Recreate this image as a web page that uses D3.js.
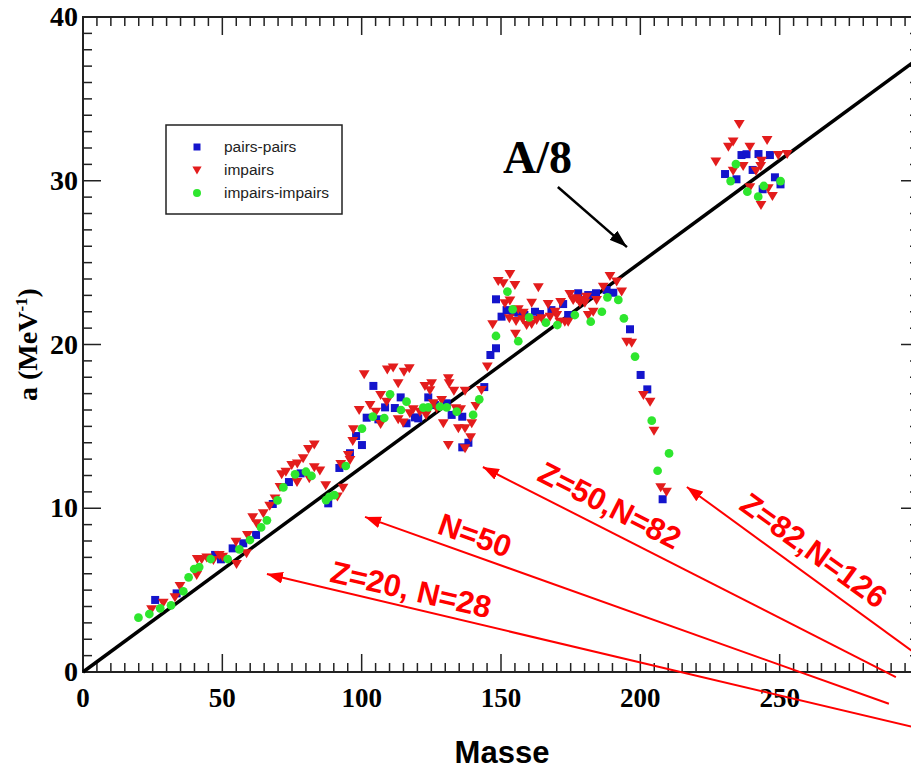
<!DOCTYPE html>
<html>
<head>
<meta charset="utf-8">
<script src="https://cdn.jsdelivr.net/npm/d3@7"></script>
<style>
  html, body { margin: 0; padding: 0; background: #fff; }
  svg { display: block; }
</style>
</head>
<body>
<svg id="chart" width="911" height="771"></svg>
<script>
// Level density parameter a (MeV^-1) versus mass number A
const pairsPairs = [
  [25.9,4.40],[33.6,4.80],[47.4,7.15],[49.5,6.88],[53.7,7.55],[57.5,7.86],[62.1,8.37],
  [68.1,10.26],[73.9,11.6],[78.1,12.13],[88.0,10.3],[92.0,12.46],[95.8,13.36],[98.0,14.41],
  [100.1,13.86],[101.8,15.53],[104.2,17.47],[106.0,15.43],[108.4,16.16],[111.9,16.12],
  [114.0,16.77],[116.1,15.19],[119.1,15.55],[120.3,15.49],[123.9,16.77],[126.3,16.3],
  [130.5,16.41],[132.3,15.7],[136.1,15.59],[136.1,13.72],[138.3,14.0],[144.0,17.4],
  [146.2,19.36],[148.2,19.77],[150.2,21.7],[148.2,22.76],[152.0,22.1],[154.2,22.0],
  [156.2,21.94],[158.4,21.8],[162.2,22.0],[164.0,21.86],[168.1,22.1],[172.3,22.47],
  [174.1,21.8],[177.7,23.13],[181.3,23.02],[184.1,23.13],[187.9,23.33],[190.3,23.16],
  [196.3,20.93],[200.1,18.14],[202.5,17.26],[208.0,10.55],
  [236.3,31.57],[238.1,31.62],[242.4,31.63],[246.5,31.57],[240.3,30.66],[230.4,30.41],
  [234.5,30.09],[248.3,30.21],[250.3,29.78],[243.9,29.48]
];

const impairs = [
  [24.6,3.83],[28.8,4.23],[33.0,4.56],[34.8,5.25],[40.8,5.92],[41.0,6.90],[42.6,6.88],
  [44.4,7.0],[46.8,6.84],[48.9,7.15],[50.1,7.04],[55.1,6.60],[54.9,7.96],[58.7,7.25],
  [59.0,8.37],[62.3,9.08],[60.9,9.45],[64.7,9.69],[67.0,10.15],[68.9,10.6],[70.7,11.3],
  [76.8,11.6],[71.3,12.07],[72.8,12.23],[74.9,12.64],[76.9,12.74],[79.0,13.05],
  [80.9,13.62],[83.0,13.9],[83.0,12.5],[85.0,12.3],[81.2,11.83],[87.1,11.4],[91.3,10.72],
  [93.3,11.25],[92.5,12.7],[95.2,13.25],[95.8,12.95],[96.8,14.1],[97.0,14.82],[99.1,16.0],
  [100.9,18.18],[103.0,16.3],[105.1,15.9],[106.8,15.15],[106.8,16.92],[109.2,18.48],
  [111.3,18.6],[109.0,16.5],[113.1,17.63],[113.1,15.43],[114.9,15.23],[115.2,18.34],
  [117.1,18.55],[117.3,15.8],[118.5,16.04],[120.9,15.9],[122.7,17.47],[125.1,17.63],
  [124.5,17.2],[123.1,15.7],[125.7,16.41],[126.9,16.1],[128.7,16.61],[131.1,17.94],
  [131.4,17.63],[129.3,15.19],[133.1,17.18],[133.8,16.1],[135.5,16.04],[134.7,14.88],
  [137.1,14.88],[137.1,17.18],[139.1,14.33],[131.1,13.86],[137.1,13.66],[139.5,15.19],
  [141.0,16.24],[143.0,17.22],[145.1,18.65],[147.0,21.23],[149.0,23.88],[150.8,23.74],
  [153.2,24.31],[155.0,23.63],[151.4,22.52],[153.2,22.68],[153.0,21.6],[155.4,21.43],
  [157.8,21.54],[155.2,20.66],[156.2,22.15],[158.0,21.94],[159.2,21.19],[161.0,21.25],
  [161.0,22.55],[163.4,23.49],[162.8,21.5],[164.6,21.6],[166.9,22.47],[167.6,21.7],
  [169.4,22.0],[170.0,21.8],[171.4,22.6],[171.1,21.39],[172.9,21.39],[174.7,23.08],
  [175.9,22.72],[174.1,21.39],[177.1,22.82],[178.9,22.72],[180.7,22.92],[178.3,22.55],
  [180.1,22.55],[181.3,21.8],[183.1,22.0],[184.3,22.72],[186.7,23.53],[189.1,24.18],
  [191.5,23.84],[193.3,23.23],[195.1,20.17],[196.9,20.11],[201.1,16.92],[203.5,16.51],
  [204.9,14.74],[207.3,11.28],[209.4,11.01],
  [235.5,33.47],[231.6,32.08],[233.3,32.39],[239.3,32.08],[245.5,32.49],[227.1,31.17],
  [249.5,31.57],[252.7,31.63],[236.9,30.9],[243.5,31.22],[243.2,30.9],[233.3,30.61],
  [241.5,30.61],[239.3,29.6],[245.9,29.54],[247.4,29.07],[243.3,28.52]
];

const impairsImpairs = [
  [19.9,3.32],[23.8,3.54],[27.7,3.89],[31.6,4.07],[36.0,4.93],[37.9,5.78],[39.9,6.29],
  [41.7,6.41],[45.8,6.90],[51.9,6.90],[56.1,7.49],[59.9,8.06],[63.9,8.83],[66.0,9.26],
  [69.8,10.48],[71.9,11.27],[76.1,12.07],[80.0,12.23],[82.0,11.97],[87.2,10.5],[88.4,10.7],
  [90.2,10.8],[94.3,12.58],[100.1,14.86],[104.0,15.59],[108.1,15.51],[110.2,16.96],
  [114.1,16.0],[116.1,16.51],[122.1,16.14],[123.9,16.16],[128.1,16.2],[130.5,16.16],
  [134.1,15.9],[140.0,15.7],[142.2,16.65],[148.2,20.52],[156.2,20.2],[152.3,23.23],
  [154.2,22.15],[160.1,21.66],[166.1,21.33],[170.2,21.19],[176.5,21.8],[182.2,21.39],
  [186.2,22.0],[188.2,22.88],[192.1,22.72],[194.1,21.6],[198.1,19.26],[204.1,15.35],
  [206.2,12.29],[210.3,13.35],
  [234.3,31.02],[232.4,29.98],[238.4,29.33],[250.3,29.98],[244.3,29.68],[242.3,29.03]
];

const legendLabels = ["pairs-pairs", "impairs", "impairs-impairs"];
const xTickValues = [0, 50, 100, 150, 200, 250];
const yTickValues = [0, 10, 20, 30, 40];
const xDomain = [0, 300];
const yDomain = [0, 40];

// Shell-closure annotations: label, arrow tip [A, a], arrow tail [A, a], label centre [A, a], angle
const shellLabels = ["Z=20, N=28", "N=50", "Z=50,N=82", "Z=82,N=126"];
const shellTips = [[66.0, 5.98], [101.2, 9.47], [143.5, 12.52], [216.7, 11.30]];
const shellTails = [[303.9, -3.60], [289.2, -1.94], [291.7, -0.31], [303.9, 0.49]];
const shellTextPos = [[117.7, 5.07], [140.7, 8.37], [189.1, 10.2], [262.3, 7.45]];
const shellAngles = [13, 19.5, 27, 36];

const svg = d3.select("#chart");
const x = d3.scaleLinear().domain(xDomain).range([83, 919]);
const y = d3.scaleLinear().domain(yDomain).range([672, 17]);

const serif = "'Liberation Serif', 'Times New Roman', serif";
const sans = "'Liberation Sans', Arial, Helvetica, sans-serif";
const axisColor = "#222";

svg.append("rect").attr("width", 911).attr("height", 771).attr("fill", "#fff");

// Frame
svg.append("rect")
  .attr("x", x(0)).attr("y", y(40))
  .attr("width", x(300) - x(0)).attr("height", y(0) - y(40))
  .attr("fill", "none").attr("stroke", axisColor).attr("stroke-width", 2);

// Inward ticks on all four sides
const xMinor = d3.range(0, 301, 5);
const yMinor = d3.range(0, 41, 1);
const tickG = svg.append("g").attr("stroke", axisColor).attr("stroke-width", 1.5);
xMinor.forEach(v => {
  const len = v % 50 === 0 ? 18 : 9;
  tickG.append("line").attr("x1", x(v)).attr("x2", x(v)).attr("y1", y(0)).attr("y2", y(0) - len);
  tickG.append("line").attr("x1", x(v)).attr("x2", x(v)).attr("y1", y(40)).attr("y2", y(40) + len);
});
yMinor.forEach(v => {
  const len = v % 10 === 0 ? 18 : 9;
  tickG.append("line").attr("y1", y(v)).attr("y2", y(v)).attr("x1", x(0)).attr("x2", x(0) + len);
  tickG.append("line").attr("y1", y(v)).attr("y2", y(v)).attr("x1", x(300)).attr("x2", x(300) - len);
});

// Tick labels
svg.append("g").selectAll("text").data(xTickValues).join("text")
  .attr("x", d => x(d)).attr("y", 707)
  .attr("text-anchor", "middle")
  .attr("font-family", serif).attr("font-weight", "bold").attr("font-size", 27)
  .attr("fill", "#000")
  .text(d => d);
svg.append("g").selectAll("text").data(yTickValues).join("text")
  .attr("x", 78).attr("y", d => y(d) + 9)
  .attr("text-anchor", "end")
  .attr("font-family", serif).attr("font-weight", "bold").attr("font-size", 28)
  .attr("fill", "#000")
  .text(d => d);

// Axis titles
svg.append("text")
  .attr("x", 502).attr("y", 763)
  .attr("text-anchor", "middle")
  .attr("font-family", sans).attr("font-weight", "bold").attr("font-size", 31)
  .text("Masse");

const yTitle = svg.append("text")
  .attr("transform", `translate(37, ${y(20)}) rotate(-90)`)
  .attr("text-anchor", "middle")
  .attr("font-family", serif).attr("font-weight", "bold").attr("font-size", 28);
yTitle.append("tspan").text("a (MeV");
yTitle.append("tspan").attr("dy", -10).attr("font-size", 17).text("-1");
yTitle.append("tspan").attr("dy", 10).text(")");

// A/8 reference line
svg.append("line")
  .attr("x1", x(0)).attr("y1", y(0))
  .attr("x2", x(300)).attr("y2", y(300 / 8))
  .attr("stroke", "#000").attr("stroke-width", 3.5);

// Marker shapes
const colors = { pp: "#1414cc", imp: "#e31c1c", ii: "#2ee62e" };
const squarePath = d3.symbol(d3.symbolSquare, 64)();
const circlePath = d3.symbol(d3.symbolCircle, 60)();
const trianglePath = "M-5.4,-4L5.4,-4L0,5Z";

// Data points
const pts = svg.append("g");
pts.append("g").selectAll("path").data(pairsPairs).join("path")
  .attr("d", squarePath).attr("fill", colors.pp)
  .attr("transform", d => `translate(${x(d[0])},${y(d[1])})`);
pts.append("g").selectAll("path").data(impairs).join("path")
  .attr("d", trianglePath).attr("fill", colors.imp)
  .attr("transform", d => `translate(${x(d[0])},${y(d[1])})`);
pts.append("g").selectAll("path").data(impairsImpairs).join("path")
  .attr("d", circlePath).attr("fill", colors.ii)
  .attr("transform", d => `translate(${x(d[0])},${y(d[1])})`);

// Legend
const legend = svg.append("g");
legend.append("rect")
  .attr("x", 166).attr("y", 125).attr("width", 176).attr("height", 89)
  .attr("fill", "#fff").attr("stroke", axisColor).attr("stroke-width", 1.5);
const legendShapes = [
  d3.symbol(d3.symbolSquare, 49)(),
  "M-4.6,-3.4L4.6,-3.4L0,4.4Z",
  d3.symbol(d3.symbolCircle, 50)()
];
const legendColors = [colors.pp, colors.imp, colors.ii];
const legendRows = [147, 170, 193];
legendLabels.forEach((lab, i) => {
  legend.append("path").attr("d", legendShapes[i]).attr("fill", legendColors[i])
    .attr("transform", `translate(197,${legendRows[i]})`);
  legend.append("text")
    .attr("x", 224).attr("y", legendRows[i] + 5)
    .attr("font-family", sans).attr("font-size", 15.5).attr("fill", "#222")
    .text(lab);
});

// Arrow heads
const defs = svg.append("defs");
defs.append("marker")
  .attr("id", "headRed").attr("viewBox", "0 0 16 12")
  .attr("refX", 16).attr("refY", 6)
  .attr("markerWidth", 16).attr("markerHeight", 12)
  .attr("markerUnits", "userSpaceOnUse").attr("orient", "auto")
  .append("path").attr("d", "M0,0L16,6L0,12Z").attr("fill", "#ff0000");
defs.append("marker")
  .attr("id", "headBlack").attr("viewBox", "0 0 18 12")
  .attr("refX", 18).attr("refY", 6)
  .attr("markerWidth", 18).attr("markerHeight", 12)
  .attr("markerUnits", "userSpaceOnUse").attr("orient", "auto")
  .append("path").attr("d", "M0,0L18,6L0,12Z").attr("fill", "#000");

// A/8 label and arrow
svg.append("text")
  .attr("x", x(150.7)).attr("y", y(30.47))
  .attr("font-family", serif).attr("font-weight", "bold").attr("font-size", 46)
  .text("A/8");
svg.append("line")
  .attr("x1", x(170.4)).attr("y1", y(29.62))
  .attr("x2", x(195.2)).attr("y2", y(25.95))
  .attr("stroke", "#000").attr("stroke-width", 2.5)
  .attr("marker-end", "url(#headBlack)");

// Shell closure annotations
const ann = svg.append("g");
shellLabels.forEach((lab, i) => {
  ann.append("line")
    .attr("x1", x(shellTails[i][0])).attr("y1", y(shellTails[i][1]))
    .attr("x2", x(shellTips[i][0])).attr("y2", y(shellTips[i][1]))
    .attr("stroke", "#ff0000").attr("stroke-width", 2)
    .attr("marker-end", "url(#headRed)");
  ann.append("text")
    .attr("transform", `translate(${x(shellTextPos[i][0])},${y(shellTextPos[i][1])}) rotate(${shellAngles[i]})`)
    .attr("text-anchor", "middle").attr("dy", "0.36em")
    .attr("font-family", sans).attr("font-weight", "bold").attr("font-size", 31)
    .attr("fill", "#ff0000")
    .text(lab);
});
</script>
</body>
</html>
